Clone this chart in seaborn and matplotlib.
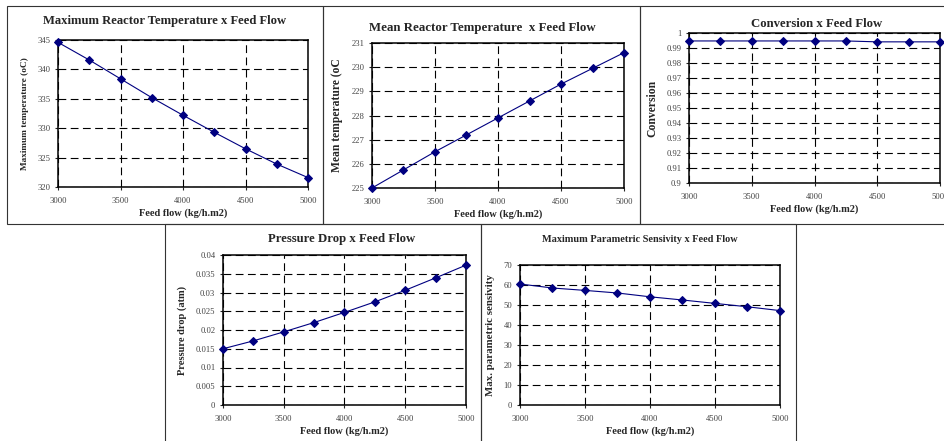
import numpy as np
import pandas as pd
import seaborn as sns
import matplotlib.pyplot as plt
from matplotlib.patches import Rectangle
from matplotlib.ticker import MultipleLocator, FormatStrFormatter

# feed flow (kg/h.m2) used in every panel
feed_flow = [3000, 3250, 3500, 3750, 4000, 4250, 4500, 4750, 5000]

max_temp = [344.6, 341.6, 338.4, 335.2, 332.2, 329.3, 326.5, 323.9, 321.6]
mean_temp = [225.0, 225.75, 226.5, 227.2, 227.9, 228.6, 229.3, 229.95, 230.6]
conversion = [0.9947, 0.9947, 0.9947, 0.9947, 0.9947, 0.9947, 0.9941, 0.9941, 0.9941]
pressure_drop = [0.0150, 0.0171, 0.0195, 0.0220, 0.0247, 0.0275, 0.0306, 0.0339, 0.0373]
sensitivity = [60.5, 58.5, 57.3, 56.0, 54.1, 52.5, 50.8, 49.1, 47.2]

W, H = 945, 441

sns.set_style("ticks")
plt.rcParams['font.family'] = ['Liberation Serif', 'DejaVu Serif']

fig = plt.figure(figsize=(W / 100, H / 100), dpi=100)


def px_rect(l, t, r, b):
    return [l / W, 1 - b / H, (r - l) / W, (b - t) / H]


def panel_frame(l, t, r, b):
    fig.add_artist(Rectangle((l / W, 1 - b / H), (r - l) / W, (b - t) / H,
                             transform=fig.transFigure, fill=False,
                             edgecolor='#333333', lw=0.8, clip_on=False))


# panel borders (pasted-image look)
panel_frame(7, 6, 323, 224)
panel_frame(323, 6, 640, 224)
panel_frame(640, 6, 960, 224)
panel_frame(165, 224, 481, 460)
panel_frame(481, 224, 796, 460)

panels = [
    # values, axes box, ylim, ystep, title, title pos, title size, ylabel, ylabel size
    (max_temp, (58, 40, 308, 187), (320, 345), 5,
     'Maximum Reactor Temperature x Feed Flow', (165, 21), 9.1,
     'Maximum temperature (oC)', 6.7),
    (mean_temp, (372, 43, 624, 188), (225, 231), 1,
     'Mean Reactor Temperature  x Feed Flow', (482, 28), 9.3,
     'Mean temperature (oC', 8.4),
    (conversion, (689, 33, 940, 183), (0.9, 1.0), 0.01,
     'Conversion x Feed Flow', (817, 24), 9.2, 'Conversion', 8.4),
    (pressure_drop, (223, 255, 466, 405), (0, 0.04), 0.005,
     'Pressure Drop x Feed Flow', (342, 239), 9.2, 'Pressure drop (atm)', 7.5),
    (sensitivity, (520, 265, 780, 405), (0, 70), 10,
     'Maximum Parametric Sensivity x Feed Flow', (640, 239), 7.4,
     'Max. parametric sensivity', 7.8),
]

for vals, box, ylim, ystep, title, tpos, tsize, ylabel, ysize in panels:
    ax = fig.add_axes(px_rect(*box))
    df = pd.DataFrame({'flow': feed_flow, 'value': vals})
    sns.lineplot(data=df, x='flow', y='value', ax=ax, color='#000080',
                 marker='D', markersize=3.6, markeredgecolor='#000080',
                 linewidth=0.8, zorder=3, clip_on=False)
    ax.set_xlim(3000, 5000)
    ax.set_ylim(*ylim)
    ax.xaxis.set_major_locator(MultipleLocator(500))
    ax.yaxis.set_major_locator(MultipleLocator(ystep))
    ax.yaxis.set_major_formatter(FormatStrFormatter('%g'))
    ax.grid(True, color='black', linestyle=(0, (7, 4)), linewidth=0.8)
    for sp in ax.spines.values():
        sp.set_visible(True)
        sp.set_linewidth(1.1)
        sp.set_color('black')
    ax.tick_params(labelsize=6.2, labelcolor='#444444', length=2.5, width=0.8)
    ax.tick_params(axis='x', pad=5)
    ax.tick_params(axis='y', pad=3)
    ax.set_xlabel('Feed flow (kg/h.m2)', fontsize=7.5, fontweight='bold',
                  labelpad=2)
    ax.set_ylabel(ylabel, fontsize=ysize, fontweight='bold', labelpad=6)
    fig.text(tpos[0] / W, 1 - tpos[1] / H, title, ha='center', va='center',
             fontsize=tsize, fontweight='bold')

fig.savefig('out.png', dpi=100)
